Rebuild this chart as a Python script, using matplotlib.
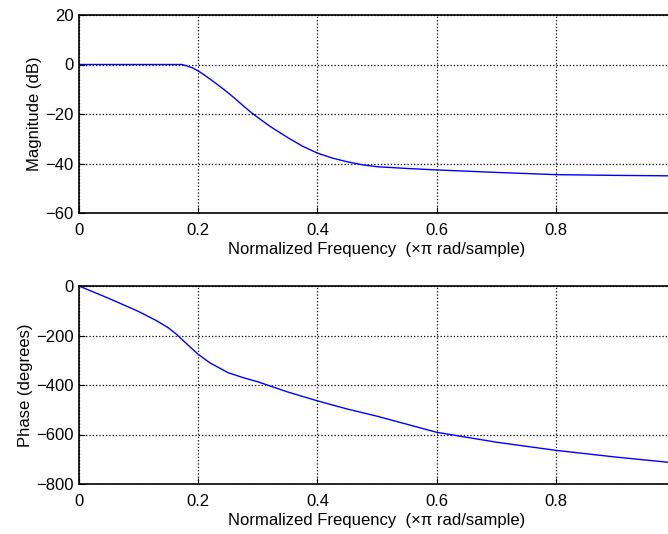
import matplotlib
matplotlib.use("Agg")
import matplotlib.pyplot as plt

plt.rcParams['font.family'] = ['Liberation Sans', 'DejaVu Sans']

# Magnitude response (dB) vs normalized frequency
mag_freq = [0.0, 0.10, 0.173, 0.18, 0.19, 0.20, 0.21, 0.22, 0.23, 0.24, 0.25, 0.26, 0.27,
            0.28, 0.29, 0.30, 0.32, 0.35, 0.375, 0.40, 0.425, 0.45, 0.475, 0.50, 0.55,
            0.60, 0.70, 0.80, 0.90, 1.0]
mag_db = [0.0, 0.0, 0.0, -0.5, -1.3, -2.6, -4.2, -5.9, -7.7, -9.5, -11.4, -13.4, -15.5,
          -17.6, -19.6, -21.4, -24.9, -29.5, -33.0, -35.8, -37.8, -39.3, -40.5, -41.3, -42.0,
          -42.6, -43.6, -44.5, -44.8, -45.0]

# Phase response (degrees) vs normalized frequency
ph_freq = [0.0, 0.05, 0.10, 0.13, 0.15, 0.164, 0.18, 0.20, 0.22, 0.25, 0.275, 0.30, 0.35,
           0.40, 0.45, 0.50, 0.60, 0.70, 0.80, 0.90, 1.0]
ph_deg = [0.0, -50.0, -103.0, -140.0, -169.0, -196.0, -232.0, -276.0, -311.0, -350.0, -370.0,
          -387.0, -428.0, -464.0, -497.0, -526.0, -591.0, -631.0, -664.0, -691.0, -715.0]

xticks = [0, 0.2, 0.4, 0.6, 0.8]
xticklabels = ['0', '0.2', '0.4', '0.6', '0.8']
mag_yticks = [-60, -40, -20, 0, 20]
ph_yticks = [-800, -600, -400, -200, 0]
xlabel = 'Normalized Frequency  (\u00d7\u03c0 rad/sample)'

W, H = 668, 534
fig = plt.figure(figsize=(W / 100, H / 100), dpi=100)

def make_ax(top_px, bottom_px):
    left = 79 / W
    right = 675 / W
    return fig.add_axes([left, 1 - bottom_px / H, right - left, (bottom_px - top_px) / H])

ax1 = make_ax(15, 213)
ax2 = make_ax(286, 484)

for ax, x, y, yt, yl, ylab in [
    (ax1, mag_freq, mag_db, mag_yticks, (-60, 20), 'Magnitude (dB)'),
    (ax2, ph_freq, ph_deg, ph_yticks, (-800, 0), 'Phase (degrees)'),
]:
    ax.plot(x, y, color='#0000ff', lw=1.0)
    ax.set_xlim(0, 1)
    ax.set_ylim(*yl)
    ax.set_xticks(xticks)
    ax.set_xticklabels(xticklabels)
    ax.set_yticks(yt)
    ax.set_yticklabels([str(v).replace('-', '\u2212') for v in yt])
    ax.grid(True, linestyle=':', color='black', lw=0.9)
    ax.tick_params(direction='in', length=4, labelsize=12)
    ax.tick_params(axis='x', pad=7)
    ax.tick_params(axis='y', pad=4)
    for s in ax.spines.values():
        s.set_linewidth(1.2)
        s.set_color('black')
    ax.set_xlabel(xlabel, fontsize=12, labelpad=3)
    ax.set_ylabel(ylab, fontsize=12, labelpad=2)

fig.savefig('out.png', dpi=100)
